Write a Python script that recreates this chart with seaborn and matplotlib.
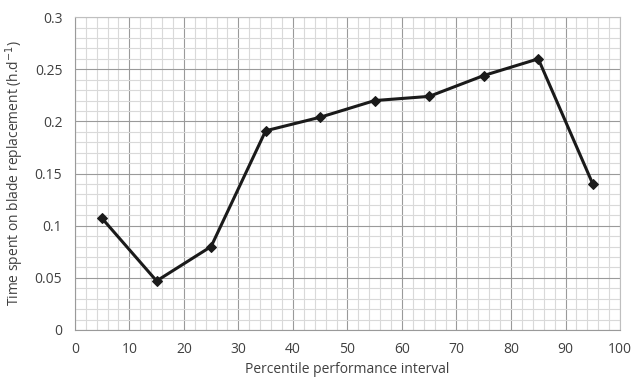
import numpy as np
import pandas as pd
import matplotlib
matplotlib.use("Agg")
import matplotlib.pyplot as plt
import seaborn as sns
from matplotlib.ticker import MultipleLocator

# data
percentile = [5, 15, 25, 35, 45, 55, 65, 75, 85, 95]
blade_time = [0.107, 0.047, 0.080, 0.191, 0.204, 0.220, 0.224, 0.244, 0.260, 0.140]

df = pd.DataFrame({"percentile": percentile, "time": blade_time})

sns.set_style("white")
plt.rcParams['font.family'] = ['Open Sans', 'DejaVu Sans']
txt = '#404040'

fig = plt.figure(figsize=(6.34, 3.81), dpi=100)
ax = fig.add_axes([0.118, 0.134, 0.86, 0.821])

sns.lineplot(data=df, x="percentile", y="time", ax=ax, color='#1a1a1a',
             linewidth=2.2, marker='D', markersize=5, markeredgecolor='#1a1a1a')

ax.set_xlim(0, 100)
ax.set_ylim(0, 0.3)
ax.xaxis.set_major_locator(MultipleLocator(10))
ax.xaxis.set_minor_locator(MultipleLocator(2))
ax.yaxis.set_major_locator(MultipleLocator(0.05))
ax.yaxis.set_minor_locator(MultipleLocator(0.01))
ax.set_yticks(np.arange(0, 0.301, 0.05))
ax.set_yticklabels(['0', '0.05', '0.1', '0.15', '0.2', '0.25', '0.3'])

ax.grid(which='major', color='#9a9a9a', linewidth=0.8)
ax.grid(which='minor', color='#d9d9d9', linewidth=0.8)
ax.set_axisbelow(True)

for s in ax.spines.values():
    s.set_color('#bfbfbf')
    s.set_linewidth(0.8)
ax.spines['left'].set_color('#9a9a9a')
ax.spines['bottom'].set_color('#9a9a9a')

ax.tick_params(which='major', direction='out', length=4, width=0.8, color='#9a9a9a',
               labelsize=10, labelcolor=txt, pad=5)
ax.tick_params(which='minor', length=0)

ax.set_xlabel('Percentile performance interval', fontsize=10, color=txt, labelpad=3)
ax.set_ylabel('Time spent on blade replacement (h.d$^{-1}$)', fontsize=10, color=txt, labelpad=6)

fig.savefig('out.png', dpi=100)
